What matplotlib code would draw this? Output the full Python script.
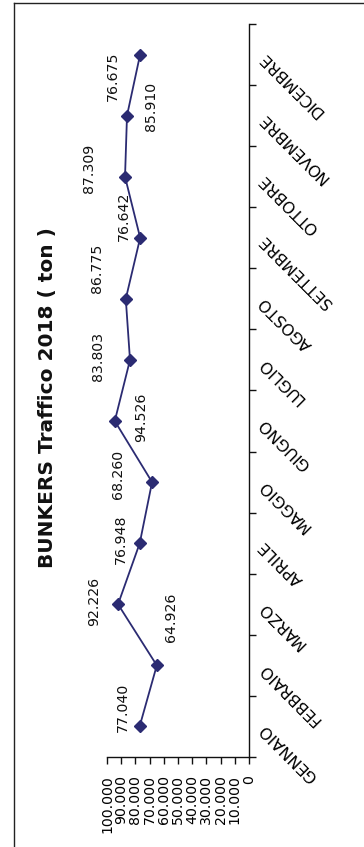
import matplotlib
matplotlib.use('Agg')
import numpy as np
import matplotlib.pyplot as plt
from matplotlib.ticker import FuncFormatter
from matplotlib.lines import Line2D

# ---- data ----
months = ["GENNAIO", "FEBBRAIO", "MARZO", "APRILE", "MAGGIO", "GIUGNO",
          "LUGLIO", "AGOSTO", "SETTEMBRE", "OTTOBRE", "NOVEMBRE", "DICEMBRE"]
tonnes = [77040, 64926, 92226, 76948, 68260, 94526,
          83803, 86775, 76642, 87309, 85910, 76675]
value_ticks = [0, 10000, 20000, 30000, 40000, 50000,
               60000, 70000, 80000, 90000, 100000]
title = "BUNKERS Traffico 2018 ( ton )"

# label placement (pixel offsets from each point; layout only)
label_offsets = [(-17, 19), (14, 48), (-24, 3), (-19, 4), (-34, 8), (26, 4),
                 (-32, 4), (-29, 31), (-16, 21), (-36, 8), (24, 9), (-27, -22)]


def it_fmt(v):
    return f"{int(round(v)):,}".replace(",", ".")


W, H = 364, 847
fig = plt.figure(figsize=(W / 100, H / 100), dpi=100)
fig.patch.set_facecolor('white')

ax = fig.add_axes([107 / W, 1 - 757 / H, (249 - 107) / W, (757 - 24) / H])
ax.set_facecolor('none')

idx = np.arange(len(months))
line_col = '#2b2b72'
ax.plot(tonnes, idx, color=line_col, lw=1.3, marker='D', ms=6,
        mfc=line_col, mec=line_col, zorder=3)

ax.set_xlim(100000, 0)
ax.set_ylim(-0.5, len(months) - 0.5)

for s in ['left', 'top']:
    ax.spines[s].set_visible(False)
for s in ['right', 'bottom']:
    ax.spines[s].set_color('#111111')
    ax.spines[s].set_linewidth(1.0)

# value axis (bottom)
ax.set_xticks(value_ticks)
ax.xaxis.set_major_formatter(FuncFormatter(lambda v, p: it_fmt(v)))
ax.tick_params(axis='x', which='major', direction='out', length=5, width=1,
               color='#111111', pad=8, labelsize=10.2, labelrotation=90)

# category axis (right)
ax.yaxis.tick_right()
ax.set_yticks(idx)
ax.set_yticklabels(months)
ax.set_yticks(np.arange(-0.5, len(months), 1.0), minor=True)
ax.tick_params(axis='y', which='major', length=0, pad=9, labelsize=11.5,
               right=True, left=False)
ax.tick_params(axis='y', which='minor', direction='out', length=5, width=1,
               color='#111111', right=True, left=False)
for lbl in ax.get_yticklabels():
    lbl.set_rotation(135)
    lbl.set_ha('right')
    lbl.set_va('center')
    lbl.set_rotation_mode('anchor')

# data labels
for i, (v, off) in enumerate(zip(tonnes, label_offsets)):
    ax.annotate(it_fmt(v), (v, i), xytext=off, textcoords='offset pixels',
                rotation=90, ha='center', va='center', fontsize=10.2,
                color='#111111')

# title
fig.text(47 / W, 1 - 398 / H, title, rotation=90, fontsize=14.5,
         fontweight='bold', ha='center', va='center', color='#111111')

# outer chart frame (left and top edges visible)
fig.add_artist(Line2D([13.5 / W, 13.5 / W], [0, 1 - 3.5 / H],
                      transform=fig.transFigure, color='#222222', lw=1.0))
fig.add_artist(Line2D([13.5 / W, 1], [1 - 3.5 / H, 1 - 3.5 / H],
                      transform=fig.transFigure, color='#222222', lw=1.0))

fig.savefig('out.png', dpi=100)
